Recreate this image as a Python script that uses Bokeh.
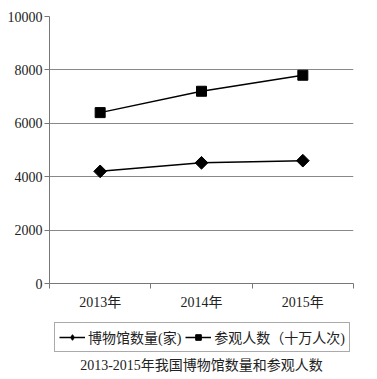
import math
from bokeh.plotting import figure
from bokeh.layouts import column
from bokeh.models import (Range1d, FixedTicker, Legend, LegendItem, Label, ColumnDataSource)
from bokeh.embed import file_html
from bokeh.resources import INLINE

years = ["2013年", "2014年", "2015年"]
museums = [4200, 4520, 4600]
visitors = [6400, 7200, 7800]
y_ticks = [0, 2000, 4000, 6000, 8000, 10000]
title_text = "2013-2015年我国博物馆数量和参观人数"
s1_name = "博物馆数量(家)"
s2_name = "参观人数（十万人次)"

xpos = [i + 0.5 for i in range(len(years))]
FONT = "Liberation Serif, Noto Sans CJK SC"

p = figure(width=377, height=318, output_backend="svg", toolbar_location=None,
           x_range=Range1d(0, len(years)), y_range=Range1d(0, 10000),
           min_border_left=49, min_border_right=24, min_border_top=16, min_border_bottom=35)
p.outline_line_color = None
p.background_fill_color = "white"
p.border_fill_color = "white"

src = ColumnDataSource(dict(x=xpos, m=museums, v=visitors))
p.line("x", "m", source=src, line_color="black", line_width=1.5)
p.scatter("x", "m", source=src, marker="square", angle=math.pi / 4, size=9,
          fill_color="black", line_color="black")
p.line("x", "v", source=src, line_color="black", line_width=1.5)
p.scatter("x", "v", source=src, marker="square", size=10, fill_color="black", line_color="black")

# axes
p.xaxis.ticker = FixedTicker(ticks=xpos, minor_ticks=list(range(len(years) + 1)))
p.xaxis.major_label_overrides = {x: y for x, y in zip(xpos, years)}
p.xaxis.major_tick_line_color = None
p.xaxis.minor_tick_out = 5
p.xaxis.minor_tick_in = 0
p.xaxis.minor_tick_line_color = "#777777"
p.xaxis.axis_line_color = "#777777"
p.xaxis.major_label_standoff = 5
p.xaxis.major_label_text_font = FONT
p.xaxis.major_label_text_font_size = "14px"
p.xaxis.major_label_text_color = "#222222"

p.yaxis.ticker = FixedTicker(ticks=y_ticks)
p.yaxis.minor_tick_line_color = None
p.yaxis.major_tick_out = 5
p.yaxis.major_tick_in = 0
p.yaxis.major_tick_line_color = "#777777"
p.yaxis.axis_line_color = "#777777"
p.yaxis.major_label_standoff = 2
p.yaxis.major_label_text_font = FONT
p.yaxis.major_label_text_font_size = "14px"
p.yaxis.major_label_text_color = "#222222"

p.xgrid.grid_line_color = None
p.ygrid.grid_line_color = "#888888"
p.ygrid.grid_line_width = 1

# legend + caption panel (its frame lines up with the main plot's frame)
p2 = figure(width=377, height=61, output_backend="svg", toolbar_location=None,
            x_range=Range1d(0, 1), y_range=Range1d(0, 1),
            min_border_left=49, min_border_right=24, min_border_top=0, min_border_bottom=0)
p2.axis.visible = False
p2.grid.grid_line_color = None
p2.outline_line_color = None
off = ColumnDataSource(dict(x=[-10], y=[-10]))
e1 = p2.line("x", "y", source=off, line_color="black", line_width=1.5)
e2 = p2.scatter("x", "y", source=off, marker="diamond", size=14,
                fill_color="black", line_color="black")
e3 = p2.line("x", "y", source=off, line_color="black", line_width=1.5)
e4 = p2.scatter("x", "y", source=off, marker="square", size=10, fill_color="black", line_color="black")

legend = Legend(items=[LegendItem(label=s1_name, renderers=[e1, e2]),
                       LegendItem(label=s2_name, renderers=[e3, e4])],
                orientation="horizontal", location=(5, 27),
                label_text_font=FONT, label_text_font_size="14px", label_text_color="#222222",
                border_line_color="#555555", glyph_width=26, glyph_height=14,
                label_standoff=3, spacing=4, padding=4, margin=0,
                label_height=16, background_fill_alpha=1)
p2.add_layout(legend, "center")

cap = Label(x=152, y=14, x_units="screen", y_units="screen", text=title_text,
            text_align="center", text_baseline="middle", text_font=FONT,
            text_font_size="14px", text_color="#222222")
p2.add_layout(cap)

open("out.html", "w").write(file_html(column(p, p2, spacing=0), INLINE))
